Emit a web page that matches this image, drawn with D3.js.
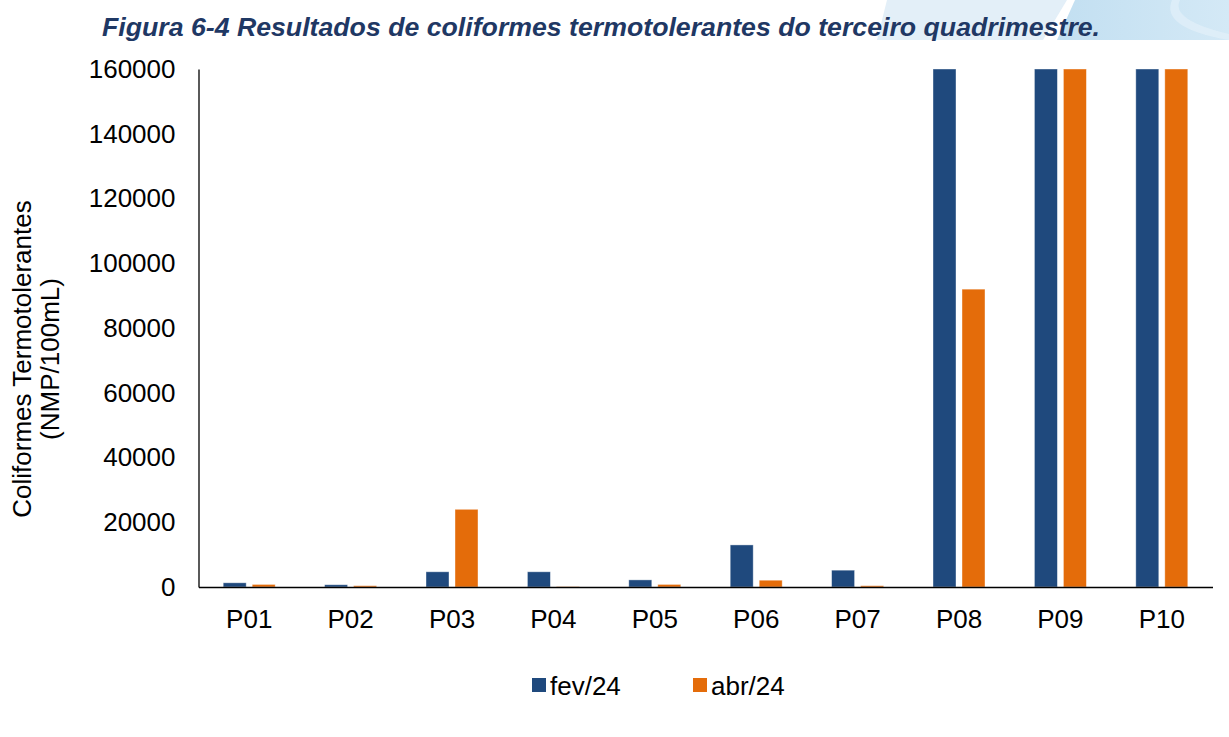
<!DOCTYPE html>
<html>
<head>
<meta charset="utf-8">
<script src="https://cdn.jsdelivr.net/npm/d3@7"></script>
<style>
  body { margin: 0; background: #fff; }
  svg { display: block; font-family: Arial, "Liberation Sans", sans-serif; }
</style>
</head>
<body>
<script>
var width = 1229;
var height = 737;
var margin = { left: 198.5, right: 16.5, top: 69, bottom: 150 };
var fontSize = 26;

// data
var pontos = ['P01', 'P02', 'P03', 'P04', 'P05', 'P06', 'P07', 'P08', 'P09', 'P10'];
var fev24 = [1300, 700, 4700, 4700, 2200, 13000, 5200, 160000, 160000, 160000];
var abr24 = [800, 400, 24000, 100, 800, 2100, 400, 92000, 160000, 160000];
var series = ['fev/24', 'abr/24'];
var colors = ['#1f497d', '#e46c0a'];
var yTicks = [0, 20000, 40000, 60000, 80000, 100000, 120000, 140000, 160000];

var rows = pontos.map(function (p, i) {
  return { ponto: p, values: [fev24[i], abr24[i]] };
});

var svg = d3.select('body')
            .append('svg')
            .attr('width', width)
            .attr('height', height);

// header band with decorative stripes
var grad = svg.append('defs').append('linearGradient')
              .attr('id', 'faixa')
              .attr('x1', '0%').attr('x2', '100%');
grad.append('stop').attr('offset', '0%').attr('stop-color', '#c2dff1');
grad.append('stop').attr('offset', '100%').attr('stop-color', '#d4e9f6');

var head = svg.append('g');
head.append('path')
    .attr('d', 'M887,0 L1229,0 L1229,40 L877,40 Z')
    .attr('fill', '#e3eff8');
head.append('path')
    .attr('d', 'M1067,0 L1229,0 L1229,40 L1043,40 Z')
    .attr('fill', '#ffffff');
head.append('path')
    .attr('d', 'M1075,0 L1229,0 L1229,40 L1057,40 Z')
    .attr('fill', 'url(#faixa)');
head.append('path')
    .attr('d', 'M1180,0 Q1170,20 1229,34 L1229,40 Q1160,28 1172,0 Z')
    .attr('fill', '#e6f2fa')
    .attr('opacity', 0.6);

svg.append('text')
    .attr('x', 601)
    .attr('y', 36)
    .attr('text-anchor', 'middle')
    .attr('font-size', 26.7)
    .attr('font-weight', 'bold')
    .attr('font-style', 'italic')
    .attr('fill', '#1f3864')
    .text('Figura 6-4 Resultados de coliformes termotolerantes do terceiro quadrimestre.');

var xScale = d3.scaleBand()
               .domain(pontos)
               .range([margin.left, width - margin.right])
               .padding(0);

var bw = 23, gap = 6;
var xInner = d3.scaleOrdinal()
               .domain([0, 1])
               .range([-(bw + gap / 2), gap / 2]);

var yScale = d3.scaleLinear()
               .domain([0, 160000])
               .range([height - margin.bottom, margin.top]);

// bars
var groups = svg.selectAll('g.grupo')
                .data(rows)
                .enter()
                .append('g')
                .attr('class', 'grupo')
                .attr('transform', function (d) {
                  return `translate(${xScale(d.ponto) + xScale.bandwidth() / 2},0)`;
                });

groups.selectAll('rect')
      .data(function (d) { return d.values; })
      .enter()
      .append('rect')
      .attr('x', function (d, i) { return xInner(i); })
      .attr('width', bw)
      .attr('y', function (d) { return yScale(d); })
      .attr('height', function (d) { return yScale(0) - yScale(d); })
      .attr('fill', function (d, i) { return colors[i]; })
      .attr('stroke', '#ffffff')
      .attr('stroke-opacity', 0.5)
      .attr('stroke-width', 0.8);

// axes
var yAxis = svg.append('g')
               .attr('transform', `translate(${margin.left},0)`)
               .call(d3.axisLeft(yScale).tickValues(yTicks).tickSize(0).tickPadding(23).tickFormat(d3.format('d')));
yAxis.select('.domain').attr('stroke', '#000').attr('stroke-width', 1.3);
yAxis.selectAll('text')
     .attr('font-size', fontSize)
     .attr('font-family', 'Arial, "Liberation Sans", sans-serif')
     .attr('fill', '#000');

var xAxis = svg.append('g')
               .attr('transform', `translate(0,${yScale(0)})`)
               .call(d3.axisBottom(xScale).tickSize(0).tickPadding(23));
xAxis.select('.domain').attr('stroke', '#000').attr('stroke-width', 1.3);
xAxis.selectAll('text')
     .attr('font-size', fontSize)
     .attr('font-family', 'Arial, "Liberation Sans", sans-serif')
     .attr('fill', '#000');

// y axis title
var yTitle = svg.append('text')
                .attr('transform', 'translate(36,359) rotate(-90)')
                .attr('text-anchor', 'middle')
                .attr('font-size', fontSize)
                .attr('fill', '#000');
yTitle.append('tspan').attr('x', 0).attr('dy', -5).text('Coliformes Termotolerantes');
yTitle.append('tspan').attr('x', 0).attr('dy', 28).text('(NMP/100mL)');

// legend
var legendX = [532, 693];
var legend = svg.selectAll('g.legenda')
                .data(series)
                .enter()
                .append('g')
                .attr('class', 'legenda')
                .attr('transform', function (d, i) { return `translate(${legendX[i]},678)`; });
legend.append('rect')
      .attr('width', 14)
      .attr('height', 14)
      .attr('fill', function (d, i) { return colors[i]; });
legend.append('text')
      .attr('x', 18)
      .attr('y', 17)
      .attr('font-size', fontSize)
      .attr('fill', '#000')
      .text(function (d) { return d; });
</script>
</body>
</html>
